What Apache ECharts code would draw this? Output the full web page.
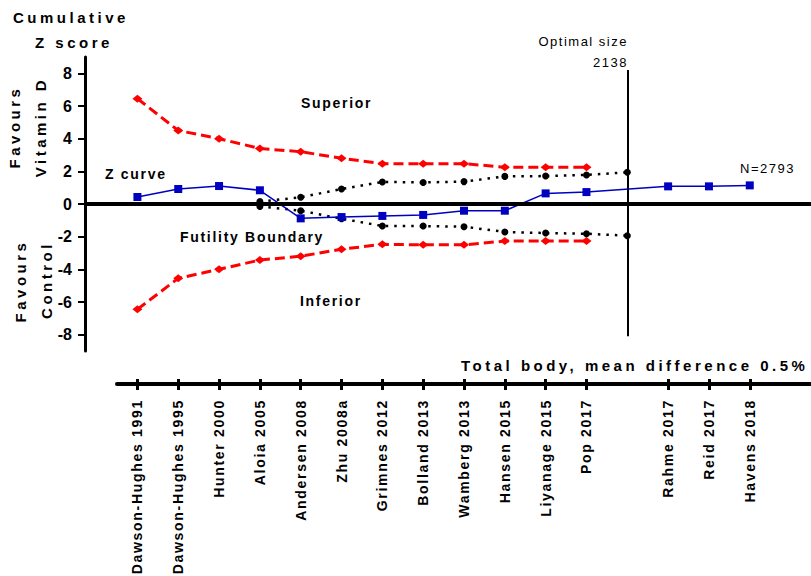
<!DOCTYPE html>
<html>
<head>
<meta charset="utf-8">
<title>Cumulative Z score</title>
<script src="https://cdn.jsdelivr.net/npm/echarts@6.0.0/dist/echarts.min.js"></script>
<style>
  html, body { margin: 0; padding: 0; background: #fff; }
  #main { width: 811px; height: 576px; }
</style>
</head>
<body>
<div id="main"></div>
<script>
// trials in order, '' = slot of the optimal information size line and the tail
var studies = ['Dawson-Hughes 1991', 'Dawson-Hughes 1995', 'Hunter 2000', 'Aloia 2005',
    'Andersen 2008', 'Zhu 2008a', 'Grimnes 2012', 'Bolland 2013', 'Wamberg 2013',
    'Hansen 2015', 'Liyanage 2015', 'Pop 2017', '', 'Rahme 2017', 'Reid 2017', 'Havens 2018', ''];

var zCurve = [0.43, 0.92, 1.1, 0.84, -0.88, -0.8, -0.73, -0.67, -0.41, -0.41, 0.65, 0.73,
    null, 1.08, 1.08, 1.14, null];
var superiorBoundary = [6.45, 4.5, 4.0, 3.4, 3.2, 2.8, 2.47, 2.47, 2.47, 2.25, 2.25, 2.25,
    null, null, null, null, null];
var inferiorBoundary = [-6.45, -4.55, -4.0, -3.43, -3.2, -2.77, -2.47, -2.5, -2.5, -2.27, -2.27, -2.27,
    null, null, null, null, null];
var futilityUpper = [null, null, null, 0.15, 0.41, 0.92, 1.35, 1.32, 1.37, 1.69, 1.71, 1.78,
    1.94, null, null, null, null];
var futilityLower = [null, null, null, -0.15, -0.41, -0.9, -1.35, -1.35, -1.39, -1.71, -1.78, -1.82,
    -1.94, null, null, null, null];
var yTicks = [-8, -6, -4, -2, 0, 2, 4, 6, 8];
var optimalIndex = 12;

var FONT = '"Liberation Sans", Arial, sans-serif';

function txt(text, x, y, size, weight, align, rotate) {
    return {
        type: 'text',
        x: x,
        y: y,
        rotation: rotate || 0,
        silent: true,
        style: {
            text: text,
            fontSize: size,
            fontWeight: weight,
            fontFamily: FONT,
            fill: '#000',
            align: align,
            verticalAlign: 'middle',
            textAlign: align,
            textVerticalAlign: 'middle'
        }
    };
}

function hasName(index, value) {
    return value !== '';
}

// svg text gets letter spacing like the original export
function spaceLetters() {
    var nodes = document.querySelectorAll('#main text');
    for (var i = 0; i < nodes.length; i++) {
        var cs = getComputedStyle(nodes[i]);
        var bold = parseInt(cs.fontWeight, 10) >= 600;
        var size = parseFloat(cs.fontSize);
        var sp = 0;
        if (bold && size === 15) sp = 3.5;
        else if (bold && size === 14) sp = 1.7;
        else if (!bold) sp = 1.5;
        nodes[i].style.letterSpacing = sp + 'px';
    }
}

var chart = echarts.init(document.getElementById('main'), null, { renderer: 'svg' });
chart.on('finished', spaceLetters);

var xTick = { color: '#000', width: 3 };

chart.setOption({
    animation: false,
    textStyle: { fontFamily: FONT },
    grid: { left: 117, right: 0, top: 57, bottom: 225, outerBoundsMode: 'none', containLabel: false },
    xAxis: [{
        type: 'category',
        data: studies,
        position: 'bottom',
        offset: 33,
        axisLine: { onZero: false, lineStyle: { color: '#000', width: 4 } },
        axisTick: { show: true, alignWithLabel: true, length: 6, interval: hasName, lineStyle: xTick },
        axisLabel: { interval: 0, rotate: 90, margin: 15, color: '#000', fontSize: 14, fontWeight: 'bold' },
        splitLine: { show: false }
    }, {
        type: 'category',
        data: studies,
        position: 'bottom',
        offset: 33,
        axisLine: { show: false, onZero: false },
        axisTick: { show: true, inside: true, alignWithLabel: true, length: 5, interval: hasName, lineStyle: xTick },
        axisLabel: { show: false },
        splitLine: { show: false }
    }],
    yAxis: {
        type: 'value',
        min: -9,
        max: 9,
        offset: 32,
        axisLine: { show: true, onZero: false, lineStyle: { color: '#000', width: 3 } },
        axisTick: { show: true, length: 7, customValues: yTicks, lineStyle: { color: '#000', width: 2 } },
        axisLabel: { customValues: yTicks, margin: 13, color: '#000', fontSize: 16, fontWeight: 'bold' },
        splitLine: { show: false }
    },
    graphic: [
        txt('Cumulative', 13, 17, 15, 'bold', 'left'),
        txt('Z score', 35, 42, 15, 'bold', 'left'),
        txt('Favours', 14, 127, 15, 'bold', 'center', Math.PI / 2),
        txt('Vitamin D', 40, 127, 15, 'bold', 'center', Math.PI / 2),
        txt('Favours', 20, 281, 15, 'bold', 'center', Math.PI / 2),
        txt('Control', 46, 280, 15, 'bold', 'center', Math.PI / 2),
        txt('Superior', 301, 103, 14, 'bold', 'left'),
        txt('Inferior', 300, 301, 14, 'bold', 'left'),
        txt('Z curve', 105, 174, 14, 'bold', 'left'),
        txt('Futility Boundary', 180, 237, 14, 'bold', 'left'),
        txt('Optimal size', 628, 41, 13, 'normal', 'right'),
        txt('2138', 628, 62, 13, 'normal', 'right'),
        txt('N=2793', 740, 168, 13, 'normal', 'left'),
        txt('Total body, mean difference 0.5%', 461, 365, 15, 'bold', 'left')
    ],
    series: [{
        name: 'Superior',
        type: 'line',
        data: superiorBoundary,
        symbol: 'diamond',
        symbolSize: [10, 8],
        itemStyle: { color: '#ff0000' },
        lineStyle: { color: '#ff0000', width: 3, type: [10, 5] }
    }, {
        name: 'Inferior',
        type: 'line',
        data: inferiorBoundary,
        symbol: 'diamond',
        symbolSize: [10, 8],
        itemStyle: { color: '#ff0000' },
        lineStyle: { color: '#ff0000', width: 3, type: [10, 5] }
    }, {
        name: 'Futility upper',
        type: 'line',
        data: futilityUpper,
        symbol: 'circle',
        symbolSize: 7,
        itemStyle: { color: '#000' },
        lineStyle: { color: '#000', width: 2.5, type: [2.5, 6] }
    }, {
        name: 'Futility lower',
        type: 'line',
        data: futilityLower,
        symbol: 'circle',
        symbolSize: 7,
        itemStyle: { color: '#000' },
        lineStyle: { color: '#000', width: 2.5, type: [2.5, 6] }
    }, {
        name: 'Z curve',
        type: 'line',
        data: zCurve,
        connectNulls: true,
        symbol: 'rect',
        symbolSize: 8,
        z: 3,
        itemStyle: { color: '#0000c0' },
        lineStyle: { color: '#0000c0', width: 1.5 },
        markLine: {
            silent: true,
            symbol: 'none',
            label: { show: false },
            data: [
                [{ yAxis: 0, x: 85, lineStyle: { color: '#000', width: 4, type: 'solid' } }, { yAxis: 0, x: '100%' }],
                [{ coord: [optimalIndex, 8.2], lineStyle: { color: '#000', width: 2, type: 'solid' } }, { coord: [optimalIndex, -8.1] }]
            ]
        }
    }]
});
spaceLetters();
</script>
</body>
</html>
